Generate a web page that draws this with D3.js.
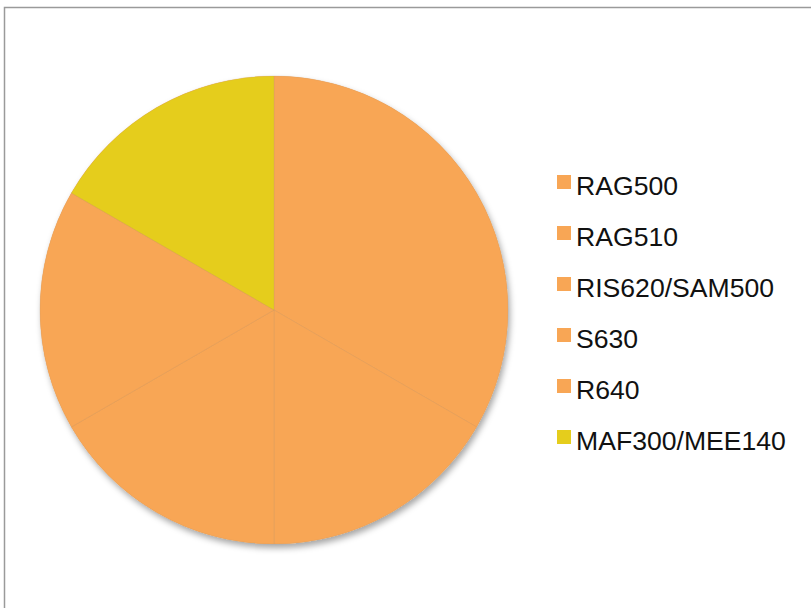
<!DOCTYPE html>
<html>
<head>
<meta charset="utf-8">
<script src="https://cdn.jsdelivr.net/npm/d3@7"></script>
<style>
  body { margin: 0; background: #fff; }
</style>
</head>
<body>
<div id="chart"></div>
<script>
const WIDTH = 811;
const HEIGHT = 608;

// slice names, clockwise from 12 o'clock
const names = ["RAG500", "RAG510", "RIS620/SAM500", "S630", "R640", "MAF300/MEE140"];
const values = [2, 1, 1, 1, 0, 1];
const colors = ["#F8A655", "#F8A655", "#F8A655", "#F8A655", "#F8A655", "#E5CD1C"];

let svg = d3.select("#chart").append("svg")
  .attr("width", WIDTH)
  .attr("height", HEIGHT)
  .style("font-family", "'Liberation Sans', Arial, sans-serif");

// soft shadow under the pie
let defs = svg.append("defs");
let shadow = defs.append("filter").attr("id", "shadow")
  .attr("x", "-10%").attr("y", "-10%").attr("width", "130%").attr("height", "130%");
shadow.append("feDropShadow")
  .attr("dx", 2).attr("dy", 4).attr("stdDeviation", 3)
  .attr("flood-color", "#000").attr("flood-opacity", 0.35);

// outer frame (only top and left edges visible)
svg.append("rect")
  .attr("x", 4.5).attr("y", 7.5)
  .attr("width", 900).attr("height", 700)
  .attr("fill", "none")
  .attr("stroke", "#9a9a9a")
  .attr("stroke-width", 1.5);

const cx = 274, cy = 310, radius = 234;

let pie = d3.pie().sort(null).value(d => d)(values);
let arc = d3.arc().innerRadius(0).outerRadius(radius);

let pieGroup = svg.append("g")
  .attr("transform", `translate(${cx},${cy})`);

// shadow disc behind the slices
pieGroup.append("circle")
  .attr("r", radius)
  .attr("fill", "#F8A655")
  .attr("filter", "url(#shadow)");

pieGroup.selectAll("path")
  .data(pie)
  .enter()
  .append("path")
  .attr("d", arc)
  .attr("fill", (d, i) => colors[i])
  .attr("stroke", (d, i) => d.value > 0 ? "rgba(190,150,110,0.35)" : "none")
  .attr("stroke-width", 0.6);

// legend
let legend = svg.append("g").attr("transform", "translate(557,175)");
let rowStep = 51;
let rows = legend.selectAll("g")
  .data(names)
  .enter()
  .append("g")
  .attr("transform", (d, i) => `translate(0,${i * rowStep})`);

rows.append("rect")
  .attr("width", 14).attr("height", 14)
  .attr("fill", (d, i) => colors[i]);

rows.append("text")
  .attr("x", 19)
  .attr("y", 20)
  .attr("font-size", 26.6)
  .attr("fill", "#111")
  .text(d => d);
</script>
</body>
</html>
